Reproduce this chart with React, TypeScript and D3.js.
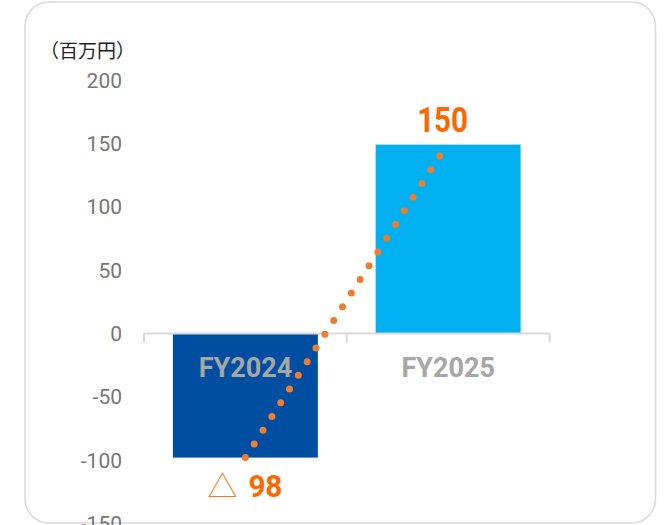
import React from "react";
import * as d3 from "d3";

const categories = ["FY2024", "FY2025"];
const values = [-98, 149];
const valueLabels = ["98", "150"];
const valuePrefixes = ["△", ""];
const yTicks = [200, 150, 100, 50, 0, -50, -100, -150];
const trendValues = [-98, 140];
const trendDotCount = 23;
const unitLabel = "（百万円）";
const barColors = ["#004EA2", "#00B0F0"];

export default function App() {
  const W = 668;
  const H = 525;
  const y = d3.scaleLinear().domain([-150, 200]).range([523.5, 80]);
  const x = d3
    .scaleBand<string>()
    .domain(categories)
    .range([144, 549.5])
    .paddingInner(0.285)
    .paddingOuter(0.1425);
  const step = x.step();
  const edges = [0, 1, 2].map((i) => 144 + i * step);
  const center = (c: string) => (x(c) as number) + x.bandwidth() / 2;

  const p0: [number, number] = [center(categories[0]), y(trendValues[0])];
  const p1: [number, number] = [center(categories[1]) - 0.042 * step, y(trendValues[1])];
  const len = Math.hypot(p1[0] - p0[0], p1[1] - p0[1]);
  const gap = len / (trendDotCount - 1);
  const line = d3.line()([p0, p1]) as string;

  const numFont = "Roboto, 'Noto Sans', sans-serif";

  return (
    <svg
      width={W}
      height={H}
      style={{ position: "absolute", left: 0, top: 0, display: "block", background: "#fff" }}
    >
      <rect x={25} y={2} width={630.5} height={521} rx={24} ry={24} fill="#fff" stroke="#d9d9d9" strokeWidth={1.5} />
      <text x={40} y={58} fontFamily="'Noto Sans CJK JP', sans-serif" fontSize={19} fill="#222">
        {unitLabel}
      </text>
      {yTicks.map((t) => (
        <text
          key={t}
          x={122}
          y={y(t)}
          dy="0.36em"
          textAnchor="end"
          fontFamily={numFont}
          fontSize={21}
          fill="#777"
        >
          {t}
        </text>
      ))}
      {categories.map((c, i) => {
        const v = values[i];
        return (
          <rect
            key={c}
            x={x(c)}
            y={y(Math.max(0, v))}
            width={x.bandwidth()}
            height={Math.abs(y(v) - y(0))}
            fill={barColors[i]}
          />
        );
      })}
      <line x1={edges[0]} x2={edges[2]} y1={y(0)} y2={y(0)} stroke="#d9d9d9" strokeWidth={2} />
      {edges.map((e, i) => (
        <line key={i} x1={e} x2={e} y1={y(0)} y2={y(0) + 9} stroke="#d9d9d9" strokeWidth={2} />
      ))}
      {categories.map((c) => (
        <text
          key={c}
          x={center(c)}
          y={377}
          textAnchor="middle"
          fontFamily={numFont}
          fontWeight="bold"
          fontSize={27}
          fill="#a6a6a6"
        >
          {c}
        </text>
      ))}
      <path
        d={line}
        fill="none"
        stroke="#ED7D31"
        strokeWidth={7}
        strokeLinecap="round"
        strokeDasharray={`0 ${gap}`}
      />
      {categories.map((c, i) => {
        const v = values[i];
        const cx = center(c) - (v >= 0 ? 5.5 : 0);
        const baseline = v >= 0 ? y(v) - 13 : y(v) + 39;
        if (valuePrefixes[i]) {
          return (
            <g key={c}>
              <text
                x={cx - 38}
                y={baseline}
                fontFamily="'Noto Sans CJK JP', sans-serif"
                fontWeight={300}
                fontSize={30}
                fill="#F47920"
              >
                {valuePrefixes[i]}
              </text>
              <text
                x={cx + 3}
                y={baseline}
                fontFamily={numFont}
                fontWeight="bold"
                fontSize={31}
                fill="#FF6600"
                textLength={34}
                lengthAdjust="spacingAndGlyphs"
              >
                {valueLabels[i]}
              </text>
            </g>
          );
        }
        return (
          <text
            key={c}
            x={cx}
            y={baseline}
            textAnchor="middle"
            fontFamily={numFont}
            fontWeight="bold"
            fontSize={35}
            fill="#FF6600"
            textLength={51}
            lengthAdjust="spacingAndGlyphs"
          >
            {valueLabels[i]}
          </text>
        );
      })}
    </svg>
  );
}
